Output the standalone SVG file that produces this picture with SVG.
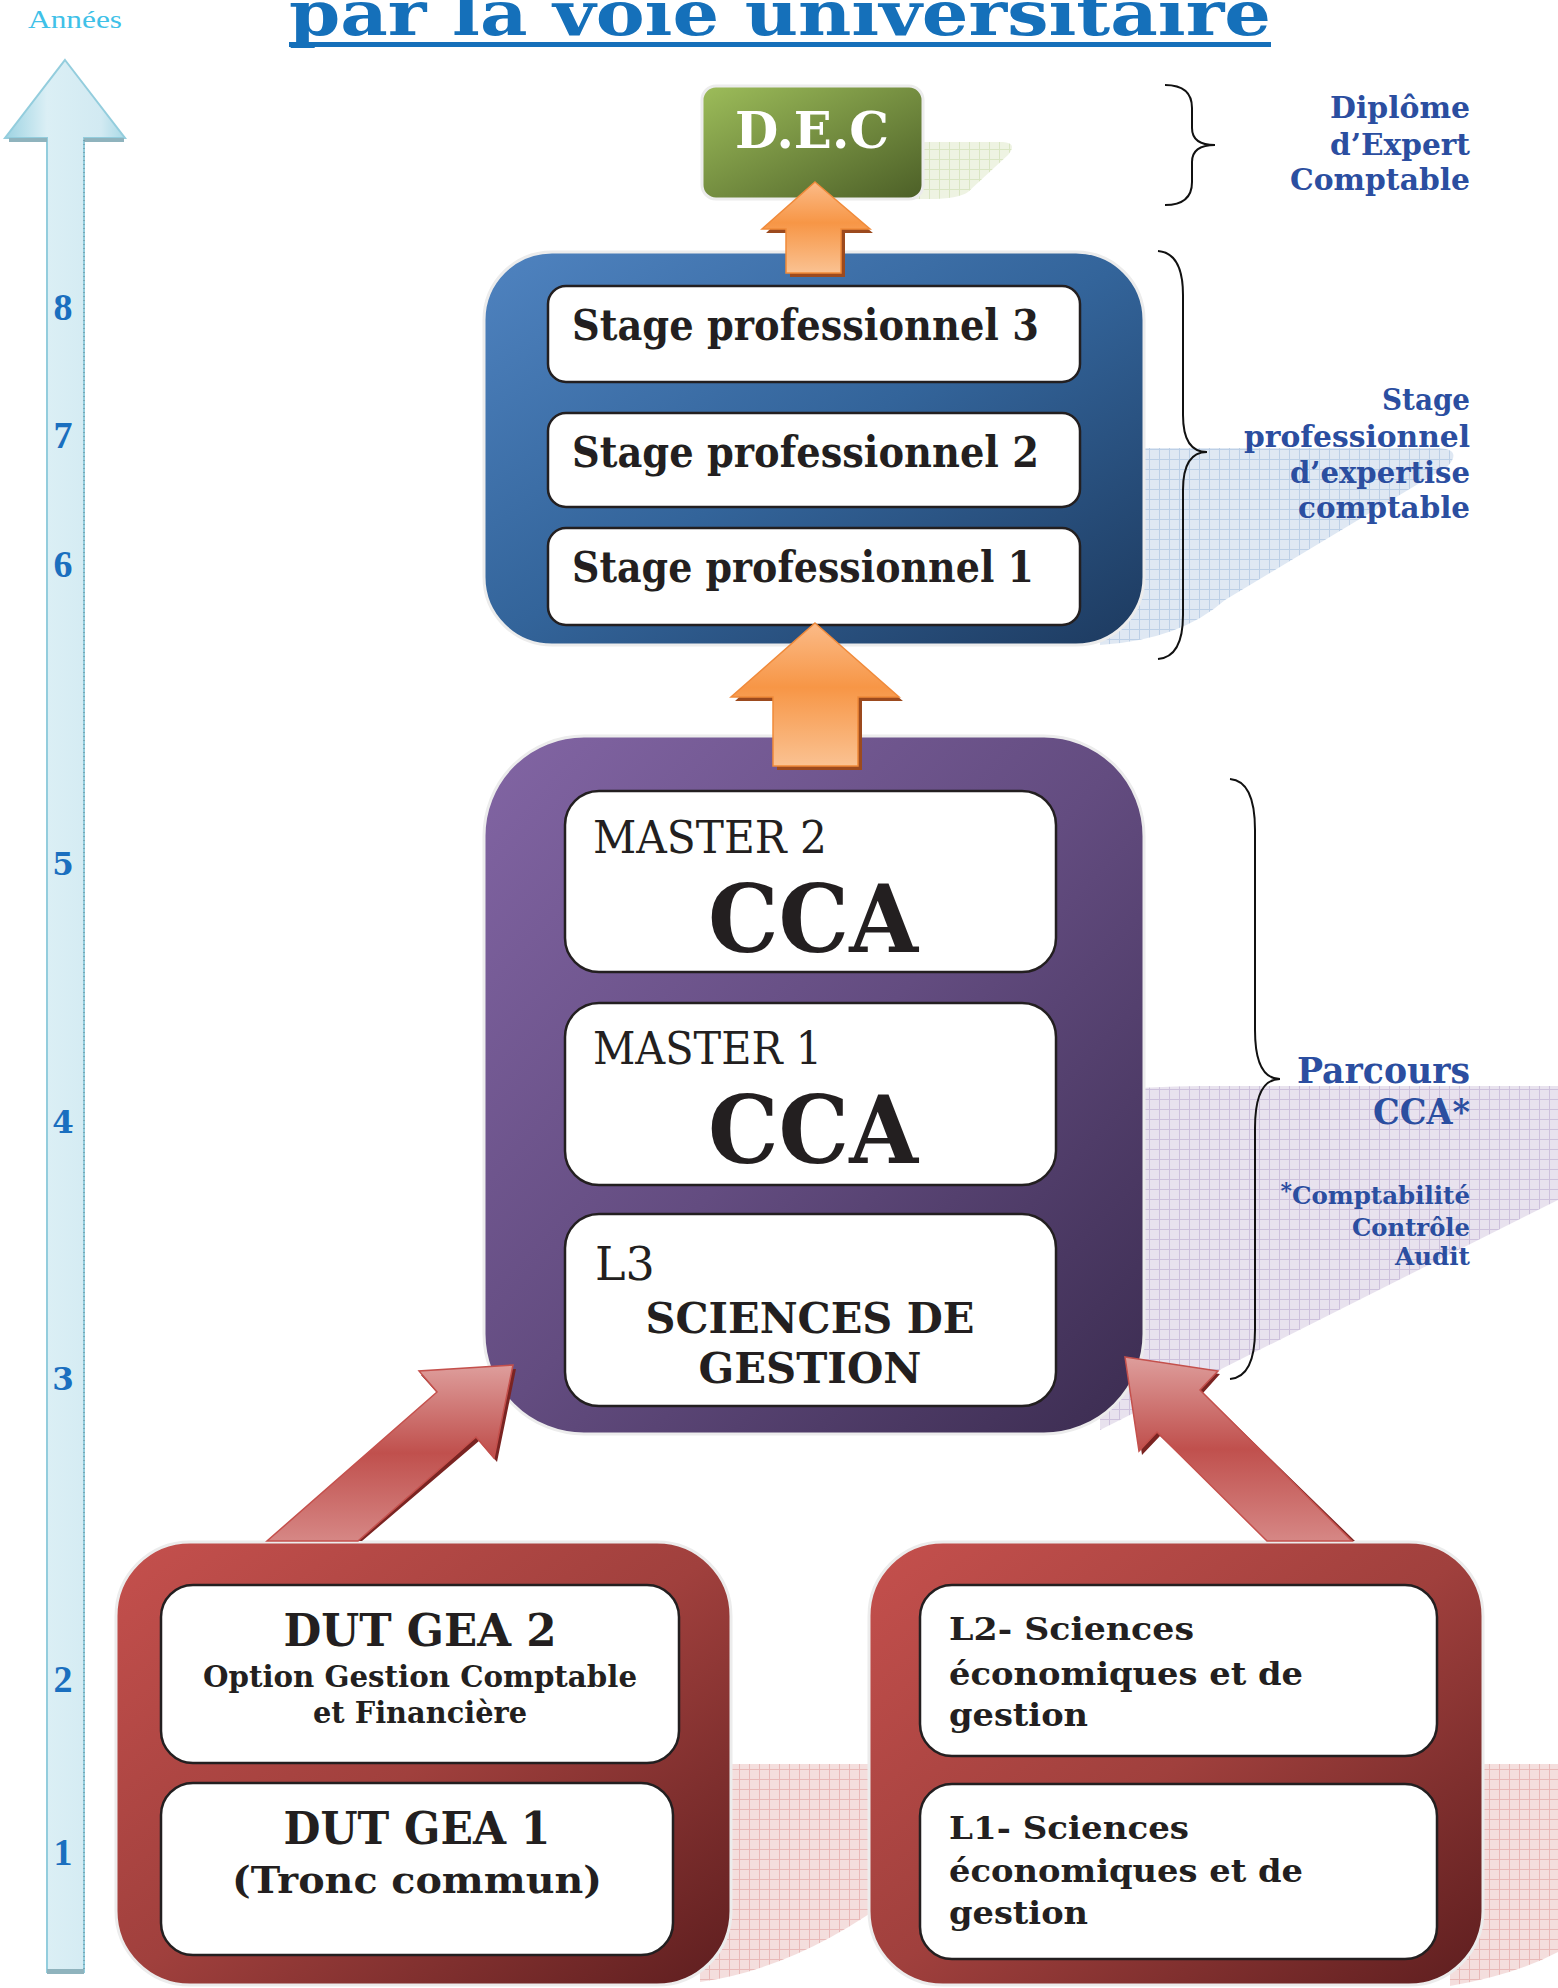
<svg xmlns="http://www.w3.org/2000/svg" width="1558" height="1988" viewBox="0 0 1558 1988">
<style>
.b{font-family:"DejaVu Serif","Liberation Serif",serif;font-weight:bold}
.r{font-family:"DejaVu Serif","Liberation Serif",serif;font-weight:normal}
.lb{font-family:"Liberation Serif","DejaVu Serif",serif;font-weight:bold}
.lr{font-family:"Liberation Serif","DejaVu Serif",serif;font-weight:normal}
.ink{fill:#231f20}
.lbl{fill:#2b4ea0;text-anchor:end}
.yr{fill:#1a6fbf;text-anchor:middle}
.inner{fill:#ffffff;stroke:#231f20;stroke-width:2.5}
.outer{stroke:#ececec;stroke-width:3}
.brace{fill:none;stroke:#111;stroke-width:2}
.mid{text-anchor:middle}
</style>
<defs>
<pattern id="gridB" width="10" height="10" patternUnits="userSpaceOnUse"><rect width="10" height="10" fill="#dfe8f3"/><path d="M9.5 0V10M0 9.5H10" stroke="#bccfe6" stroke-width="1"/></pattern>
<pattern id="gridP" width="10" height="10" patternUnits="userSpaceOnUse"><rect width="10" height="10" fill="#e8e2ee"/><path d="M9.5 0V10M0 9.5H10" stroke="#cdc1dc" stroke-width="1"/></pattern>
<pattern id="gridR" width="10" height="10" patternUnits="userSpaceOnUse"><rect width="10" height="10" fill="#f4dedd"/><path d="M9.5 0V10M0 9.5H10" stroke="#e8b9b8" stroke-width="1"/></pattern>
<pattern id="gridG" width="10" height="10" patternUnits="userSpaceOnUse"><rect width="10" height="10" fill="#eef3e2"/><path d="M9.5 0V10M0 9.5H10" stroke="#d9e5c2" stroke-width="1"/></pattern>
<linearGradient id="gGreen" x1="0" y1="0" x2="1" y2="1"><stop offset="0" stop-color="#9dbd5a"/><stop offset="1" stop-color="#4c5f27"/></linearGradient>
<linearGradient id="gBlue" x1="0" y1="0" x2="1" y2="1"><stop offset="0" stop-color="#4f83c0"/><stop offset="0.5" stop-color="#33649a"/><stop offset="1" stop-color="#1d3a5f"/></linearGradient>
<linearGradient id="gPurple" x1="0" y1="0" x2="1" y2="1"><stop offset="0" stop-color="#8265a4"/><stop offset="0.5" stop-color="#634c80"/><stop offset="1" stop-color="#3b2c50"/></linearGradient>
<linearGradient id="gRed" x1="0" y1="0" x2="1" y2="1"><stop offset="0" stop-color="#c5504d"/><stop offset="0.5" stop-color="#a0403d"/><stop offset="1" stop-color="#5e1e1f"/></linearGradient>
<linearGradient id="gOrange" x1="0" y1="0" x2="0" y2="1"><stop offset="0" stop-color="#fbbb88"/><stop offset="0.45" stop-color="#f79646"/><stop offset="1" stop-color="#fac292"/></linearGradient>
<linearGradient id="gArrowR" x1="0" y1="0" x2="0" y2="1"><stop offset="0" stop-color="#de9e9c"/><stop offset="0.5" stop-color="#c0504d"/><stop offset="1" stop-color="#d68785"/></linearGradient>
<linearGradient id="gAxis" x1="0" y1="0" x2="1" y2="0"><stop offset="0" stop-color="#9dd3e2"/><stop offset="0.35" stop-color="#dbeff5"/><stop offset="0.8" stop-color="#d2eaf2"/><stop offset="1" stop-color="#a9d9e6"/></linearGradient>
</defs>

<!-- title -->
<g id="title">
<rect x="289" y="42" width="982" height="5" fill="#1570ba"/>
<text x="289" y="35" class="b" font-size="62" fill="#1570ba" textLength="982" lengthAdjust="spacingAndGlyphs">par la voie universitaire</text>
</g>

<!-- years axis -->
<g id="axis">
<text x="28" y="28" class="lr" font-size="26" fill="#3fc1e8" textLength="94" lengthAdjust="spacingAndGlyphs">Années</text>
<polygon points="65,60 125,138 84,138 84,1972 47,1972 47,138 5,138" fill="url(#gAxis)" stroke="#93cddd" stroke-width="2"/>
<rect x="9" y="138" width="38" height="4" fill="#8fb3bd"/>
<rect x="84" y="138" width="40" height="4" fill="#8fb3bd"/>
<rect x="47" y="1969" width="37" height="5" fill="#8fb3bd"/>
<line x1="84" y1="140" x2="84" y2="1970" stroke="#6f9aa8" stroke-width="1.5" stroke-dasharray="1 3"/>
<text x="63" y="320" class="lb yr" font-size="38">8</text>
<text x="63" y="448" class="lb yr" font-size="38">7</text>
<text x="63" y="577" class="lb yr" font-size="38">6</text>
<text x="63" y="875" class="b yr" font-size="31">5</text>
<text x="63" y="1133" class="b yr" font-size="31">4</text>
<text x="63" y="1390" class="b yr" font-size="31">3</text>
<text x="63" y="1692" class="lb yr" font-size="38">2</text>
<text x="63" y="1865" class="lb yr" font-size="38">1</text>
</g>

<!-- grid shadows -->
<g id="shadows">
<path d="M900,142 L1003,142 Q1018,143 1008,155 L968,192 Q958,199 930,199 L900,199 Z" fill="url(#gridG)"/>
<path d="M1100,448 L1440,448 Q1462,450 1448,466 L1225,600 Q1180,640 1100,645 Z" fill="url(#gridB)"/>
<path d="M1100,1092 Q1150,1086 1200,1086 L1558,1086 L1558,1200 L1100,1430 Z" fill="url(#gridP)"/>
<path d="M700,1764 L900,1764 L900,1892 Q800,1968 700,1982 Z" fill="url(#gridR)"/>
<path d="M1450,1764 L1558,1764 L1558,1952 Q1515,1975 1450,1986 Z" fill="url(#gridR)"/>
</g>

<!-- nodes -->
<g id="node-dec">
<rect x="702" y="86" width="221" height="113" rx="14" fill="url(#gGreen)" class="outer"/>
<text x="812" y="148" class="b mid" font-size="50" fill="#ffffff" textLength="154" lengthAdjust="spacingAndGlyphs">D.E.C</text>
</g>

<g id="node-stages">
<rect x="484" y="252" width="660" height="393" rx="68" fill="url(#gBlue)" class="outer"/>
<g id="node-stage3">
<rect x="548" y="286" width="532" height="96" rx="18" class="inner"/>
<text x="572" y="340" class="b ink" font-size="42" textLength="467" lengthAdjust="spacingAndGlyphs">Stage professionnel 3</text>
</g>
<g id="node-stage2">
<rect x="548" y="413" width="532" height="94" rx="18" class="inner"/>
<text x="572" y="467" class="b ink" font-size="42" textLength="467" lengthAdjust="spacingAndGlyphs">Stage professionnel 2</text>
</g>
<g id="node-stage1">
<rect x="548" y="528" width="532" height="97" rx="18" class="inner"/>
<text x="572" y="582" class="b ink" font-size="42" textLength="462" lengthAdjust="spacingAndGlyphs">Stage professionnel 1</text>
</g>
</g>

<g id="node-cca">
<rect x="484" y="736" width="660" height="698" rx="100" fill="url(#gPurple)" class="outer"/>
<g id="node-master2">
<rect x="565" y="791" width="491" height="181" rx="34" class="inner"/>
<text x="593" y="853" class="r ink" font-size="44" textLength="234" lengthAdjust="spacingAndGlyphs">MASTER 2</text>
<text x="813" y="952" class="b ink mid" font-size="94" textLength="210" lengthAdjust="spacingAndGlyphs">CCA</text>
</g>
<g id="node-master1">
<rect x="565" y="1003" width="491" height="182" rx="34" class="inner"/>
<text x="593" y="1064" class="r ink" font-size="44" textLength="229" lengthAdjust="spacingAndGlyphs">MASTER 1</text>
<text x="813" y="1163" class="b ink mid" font-size="94" textLength="210" lengthAdjust="spacingAndGlyphs">CCA</text>
</g>
<g id="node-l3">
<rect x="565" y="1214" width="491" height="192" rx="34" class="inner"/>
<text x="595" y="1280" class="r ink" font-size="46">L3</text>
<text x="810" y="1333" class="b ink mid" font-size="43" textLength="329" lengthAdjust="spacingAndGlyphs">SCIENCES DE</text>
<text x="810" y="1383" class="b ink mid" font-size="43" textLength="223" lengthAdjust="spacingAndGlyphs">GESTION</text>
</g>
</g>

<g id="node-dut">
<rect x="116" y="1542" width="615" height="443" rx="74" fill="url(#gRed)" class="outer"/>
<g id="node-dut2">
<rect x="161" y="1585" width="518" height="178" rx="32" class="inner"/>
<text x="420" y="1646" class="b ink mid" font-size="45" textLength="273" lengthAdjust="spacingAndGlyphs">DUT GEA 2</text>
<text x="420" y="1687" class="b ink mid" font-size="29" textLength="434" lengthAdjust="spacingAndGlyphs">Option Gestion Comptable</text>
<text x="420" y="1723" class="b ink mid" font-size="29" textLength="214" lengthAdjust="spacingAndGlyphs">et Financière</text>
</g>
<g id="node-dut1">
<rect x="161" y="1783" width="512" height="172" rx="32" class="inner"/>
<text x="417" y="1844" class="b ink mid" font-size="45" textLength="267" lengthAdjust="spacingAndGlyphs">DUT GEA 1</text>
<text x="417" y="1893" class="b ink mid" font-size="38" textLength="370" lengthAdjust="spacingAndGlyphs">(Tronc commun)</text>
</g>
</g>

<g id="node-licence">
<rect x="869" y="1542" width="614" height="443" rx="74" fill="url(#gRed)" class="outer"/>
<g id="node-l2">
<rect x="920" y="1585" width="517" height="171" rx="32" class="inner"/>
<text x="949" y="1640" class="b ink" font-size="32" textLength="245" lengthAdjust="spacingAndGlyphs">L2- Sciences</text>
<text x="949" y="1685" class="b ink" font-size="32" textLength="354" lengthAdjust="spacingAndGlyphs">économiques et de</text>
<text x="949" y="1726" class="b ink" font-size="32" textLength="139" lengthAdjust="spacingAndGlyphs">gestion</text>
</g>
<g id="node-l1">
<rect x="920" y="1784" width="517" height="175" rx="32" class="inner"/>
<text x="949" y="1839" class="b ink" font-size="32" textLength="240" lengthAdjust="spacingAndGlyphs">L1- Sciences</text>
<text x="949" y="1882" class="b ink" font-size="32" textLength="354" lengthAdjust="spacingAndGlyphs">économiques et de</text>
<text x="949" y="1924" class="b ink" font-size="32" textLength="139" lengthAdjust="spacingAndGlyphs">gestion</text>
</g>
</g>

<!-- connectors -->
<g id="connectors">
<g id="arrow-stages-dec">
<polygon points="815,186 873,233 845,233 845,277 790,277 790,233 766,233" fill="#9c4a1e"/>
<polygon points="815,182 870,229 841,229 841,273 786,273 786,229 762,229" fill="url(#gOrange)" stroke="#f08a3a" stroke-width="1.5"/>
</g>
<g id="arrow-cca-stages">
<polygon points="815,627 903,701 862,701 862,770 777,770 777,701 735,701" fill="#9c4a1e"/>
<polygon points="815,623 899,697 858,697 858,766 773,766 773,697 731,697" fill="url(#gOrange)" stroke="#f08a3a" stroke-width="1.5"/>
</g>
<g id="arrow-dut-cca">
<polygon points="516,1369 497,1462 479,1441 362,1541 271,1541 440,1396 421,1375" fill="#7a2422"/>
<polygon points="513,1365 494,1458 476,1437 358,1541 267,1541 437,1392 419,1371" fill="url(#gArrowR)" stroke="#c4504c" stroke-width="1.5"/>
</g>
<g id="arrow-licence-cca">
<polygon points="1128,1360 1220,1374 1203,1393 1355,1541 1270,1541 1160,1436 1142,1455" fill="#7a2422"/>
<polygon points="1125,1357 1218,1371 1200,1390 1352,1541 1267,1541 1157,1432 1139,1451" fill="url(#gArrowR)" stroke="#c4504c" stroke-width="1.5"/>
</g>
</g>

<!-- braces and side labels -->
<g id="label-dec">
<path class="brace" d="M1165,85 Q1192,85 1192,108 L1192,128 Q1192,145 1215,145 Q1192,145 1192,162 L1192,182 Q1192,205 1165,205"/>
<text x="1470" y="118" class="b lbl" font-size="29" textLength="140" lengthAdjust="spacingAndGlyphs">Diplôme</text>
<text x="1470" y="155" class="b lbl" font-size="29" textLength="140" lengthAdjust="spacingAndGlyphs">d’Expert</text>
<text x="1470" y="190" class="b lbl" font-size="29" textLength="180" lengthAdjust="spacingAndGlyphs">Comptable</text>
</g>
<g id="label-stage">
<path class="brace" d="M1158,251 Q1183,253 1183,295 L1183,415 Q1183,452 1207,452 Q1183,452 1183,490 L1183,615 Q1183,657 1158,659"/>
<text x="1470" y="410" class="b lbl" font-size="29" textLength="88" lengthAdjust="spacingAndGlyphs">Stage</text>
<text x="1470" y="447" class="b lbl" font-size="29" textLength="226" lengthAdjust="spacingAndGlyphs">professionnel</text>
<text x="1470" y="483" class="b lbl" font-size="29" textLength="180" lengthAdjust="spacingAndGlyphs">d’expertise</text>
<text x="1470" y="518" class="b lbl" font-size="29" textLength="172" lengthAdjust="spacingAndGlyphs">comptable</text>
</g>
<g id="label-cca">
<path class="brace" d="M1230,779 Q1255,781 1255,830 L1255,1030 Q1255,1079 1280,1079 Q1255,1079 1255,1128 L1255,1330 Q1255,1377 1230,1379"/>
<text x="1470" y="1083" class="b lbl" font-size="35" textLength="173" lengthAdjust="spacingAndGlyphs">Parcours</text>
<text x="1470" y="1124" class="b lbl" font-size="35" textLength="97" lengthAdjust="spacingAndGlyphs">CCA*</text>
<text x="1470" y="1204" class="b lbl" font-size="24.5"><tspan font-size="22" dy="-6">*</tspan><tspan dy="6">Comptabilité</tspan></text>
<text x="1470" y="1236" class="b lbl" font-size="24.5" textLength="118" lengthAdjust="spacingAndGlyphs">Contrôle</text>
<text x="1470" y="1265" class="b lbl" font-size="24.5" textLength="75" lengthAdjust="spacingAndGlyphs">Audit</text>
</g>
</svg>
